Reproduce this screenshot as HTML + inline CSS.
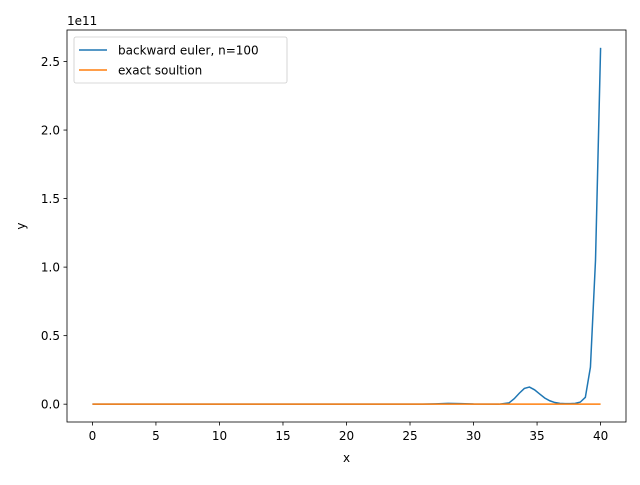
<!DOCTYPE html>
<html><head><meta charset="utf-8"><style>body{margin:0;background:#fff}svg{font-family:"DejaVu Sans","Liberation Sans",sans-serif}</style></head>
<body>
<svg id="chart" width="640" height="480"></svg>
<script>
const eulerX = [0,26,27,28,29,30,32,32.8,33.2,33.6,34,34.4,34.8,35.2,35.6,36,36.4,36.8,37.2,37.6,38,38.4,38.8,39.2,39.6,40];
const eulerY = [0,0,0.002,0.006,0.004,0.001,0,0.01,0.04,0.08,0.115,0.125,0.105,0.075,0.045,0.025,0.012,0.006,0.004,0.004,0.006,0.015,0.05,0.27,1.05,2.6];
const exactX = [0,40];
const exactY = [0,0];
const xTicks = [0,5,10,15,20,25,30,35,40];
const yTicks = [0,0.5,1.0,1.5,2.0,2.5];
const yTickLabels = ["0.0","0.5","1.0","1.5","2.0","2.5"];

const L=67,R=626,T=30,B=422,xmin=-2,xmax=42,ymin=-0.13,ymax=2.73;
const sx=v=>L+(v-xmin)/(xmax-xmin)*(R-L);
const sy=v=>B-(v-ymin)/(ymax-ymin)*(B-T);
const svg=document.getElementById('chart');const NS='http://www.w3.org/2000/svg';
function mk(t,a,txt){const e=document.createElementNS(NS,t);for(const k in a)e.setAttribute(k,a[k]);if(txt!==undefined)e.textContent=txt;svg.appendChild(e);return e;}
function line(xs,ys,c,name){const p=mk('polyline',{points:xs.map((x,i)=>sx(x)+','+sy(ys[i])).join(' '),fill:'none',stroke:c,'stroke-width':1.5});

}
line(eulerX,eulerY,'#1f77b4','backward-euler-line');
line(exactX,exactY,'#ff7f0e','exact-solution-line');
const fr=mk('rect',{x:L,y:T,width:R-L,height:B-T,fill:'none',stroke:'#000','stroke-width':0.8});


xTicks.forEach(v=>{mk('line',{x1:sx(v),x2:sx(v),y1:B,y2:B+3.5,stroke:'#000','stroke-width':0.8});
const t=mk('text',{x:sx(v),y:B+18,'text-anchor':'middle','font-size':12},String(v));

});
yTicks.forEach((v,i)=>{mk('line',{x1:L-3.5,x2:L,y1:sy(v),y2:sy(v),stroke:'#000','stroke-width':0.8});
const t=mk('text',{x:L-7,y:sy(v)+4.5,'text-anchor':'end','font-size':12},yTickLabels[i]);

});
const off=mk('text',{x:L,y:T-5,'font-size':12},'1e11');


const xl=mk('text',{x:(L+R)/2,y:462,'text-anchor':'middle','font-size':12},'x');


const yl=mk('text',{x:25,y:(T+B)/2,'text-anchor':'middle','font-size':12,transform:'rotate(-90 25 '+(T+B)/2+')'},'y');


const lg=mk('rect',{x:74,y:37,width:213,height:46,rx:2,fill:'#fff','fill-opacity':0.8,stroke:'#ccc','stroke-width':0.8});


[['backward euler, n=100','#1f77b4',50],['exact soultion','#ff7f0e',70]].forEach(([s,c,y])=>{
mk('line',{x1:79,x2:107,y1:y,y2:y,stroke:c,'stroke-width':1.5});
const t=mk('text',{x:118,y:y+4.5,'font-size':12},s);

});
</script>
</body></html>
